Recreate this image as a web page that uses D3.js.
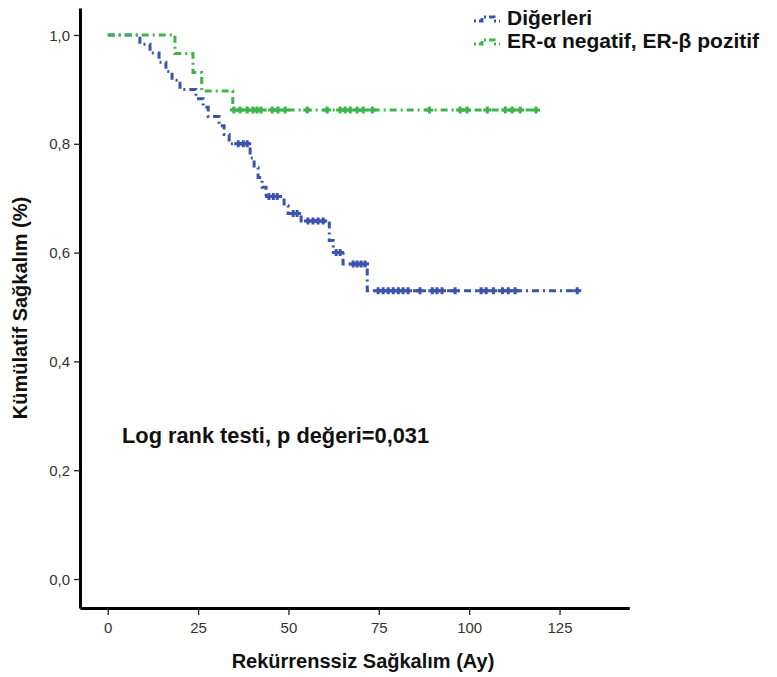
<!DOCTYPE html>
<html>
<head>
<meta charset="utf-8">
<script src="https://cdn.jsdelivr.net/npm/d3@7"></script>
<style>
  body { margin: 0; background: #fff; }
  svg { display: block; }
</style>
</head>
<body>
<div id="chart"></div>
<script>
// Kaplan-Meier steps: time (months) and survival after the step
const digerTimes = [8.9, 11.7, 14.2, 16.1, 17.8, 20.0, 24.4, 26.4, 27.8, 30.8, 32.2, 33.6,
  39.4, 40.5, 41.6, 42.7, 43.8, 48.8, 49.9, 53.5, 61.3, 62.4, 65.1, 71.8];
const digerSurv = [0.983, 0.967, 0.950, 0.933, 0.917, 0.900, 0.883, 0.867, 0.850, 0.833, 0.817, 0.800,
  0.774, 0.756, 0.738, 0.720, 0.703, 0.686, 0.672, 0.658, 0.622, 0.600, 0.579, 0.530];
const digerCensor = [36.1, 37.5, 38.6, 44.6, 45.8, 46.9, 51.3, 52.4, 55.4, 56.8, 58.2, 59.6,
  63.2, 64.3, 67.9, 69.0, 70.1, 71.2, 74.8, 76.2, 77.6, 79.0, 80.4, 81.7, 83.1, 86.4, 89.8,
  91.1, 92.5, 96.1, 103.3, 104.7, 106.7, 109.2, 110.8, 112.7, 129.9];

const erTimes = [18.6, 23.6, 26.0, 34.6];
const erSurv = [0.966, 0.931, 0.897, 0.862];
const erCensor = [34.9, 36.6, 38.6, 40.2, 41.3, 42.4, 45.5, 47.1, 49.1, 55.2, 60.7, 64.3, 65.7,
  67.1, 69.0, 70.7, 73.2, 89.0, 97.5, 99.4, 105.0, 110.0, 111.9, 114.1, 118.5];

const seriesNames = ["Diğerleri", "ER-α negatif, ER-β pozitif"];
const seriesColors = ["#3a53ab", "#3db54c"];
const xTicks = [0, 25, 50, 75, 100, 125];
const yTicks = [0, 0.2, 0.4, 0.6, 0.8, 1.0];

const W = 777, H = 677;
const svg = d3.select("#chart").append("svg")
  .attr("width", W).attr("height", H);

const x = d3.scaleLinear().domain([-7.67, 144.3]).range([80, 629.3]);
const y = d3.scaleLinear().domain([-0.0533, 1.0496]).range([608, 8]);

const font = "'Liberation Sans', Arial, sans-serif";

// axes
const yAxis = svg.append("g")
  .attr("transform", "translate(80,0)")
  .call(d3.axisLeft(y).tickValues(yTicks).tickSize(6).tickSizeOuter(0)
    .tickFormat(d => d3.format(".1f")(d).replace(".", ",")));
const xAxis = svg.append("g")
  .attr("transform", "translate(0,608)")
  .call(d3.axisBottom(x).tickValues(xTicks).tickSize(7).tickSizeOuter(0));

[xAxis, yAxis].forEach(g => {
  g.select(".domain").attr("stroke", "#000").attr("stroke-width", 3);
  g.selectAll(".tick line").attr("stroke", "#222").attr("stroke-width", 1.3);
  g.selectAll(".tick text")
    .attr("fill", "#333")
    .style("font-family", font)
    .style("font-size", "15px");
});
yAxis.selectAll(".tick text").attr("x", -10).attr("dy", "0.34em");
xAxis.selectAll(".tick text").attr("y", 14);

// curves
const line = d3.line()
  .x(d => x(d[0]))
  .y(d => y(d[1]))
  .curve(d3.curveStepAfter);

function survAt(times, surv, t) {
  let s = 1;
  times.forEach((tt, i) => { if (tt <= t) s = surv[i]; });
  return s;
}

function drawSeries(times, surv, censor, color) {
  const endT = Math.max(d3.max(times), d3.max(censor));
  const pts = [[0, 1]].concat(times.map((t, i) => [t, surv[i]]));
  pts.push([endT, surv[surv.length - 1]]);
  svg.append("path")
    .datum(pts)
    .attr("d", line)
    .attr("fill", "none")
    .attr("stroke", color)
    .attr("stroke-width", 3)
    .attr("stroke-dasharray", "7,4,2,4");

  const marks = svg.append("g");
  censor.forEach(t => {
    const cx = x(t), cy = y(survAt(times, surv, t));
    marks.append("path")
      .attr("d", `M${cx - 4},${cy}H${cx + 4}M${cx},${cy - 3.5}V${cy + 3.5}`)
      .attr("stroke", color)
      .attr("stroke-width", 3)
      .attr("fill", "none");
  });
}

drawSeries(digerTimes, digerSurv, digerCensor, seriesColors[0]);
drawSeries(erTimes, erSurv, erCensor, seriesColors[1]);

// legend
seriesNames.forEach((name, i) => {
  const ly = 21 + i * 23;
  svg.append("path")
    .attr("d", `M474,${ly}H482V${ly - 4}H494V${ly}H500`)
    .attr("fill", "none")
    .attr("stroke", seriesColors[i])
    .attr("stroke-width", 3)
    .attr("stroke-dasharray", "2,3,6,3");
  svg.append("text")
    .attr("x", 507).attr("y", ly + 4)
    .style("font-family", font)
    .style("font-size", "21px")
    .style("font-weight", "bold")
    .attr("fill", "#111")
    .text(name);
});

// titles
svg.append("text")
  .attr("x", 363).attr("y", 668)
  .attr("text-anchor", "middle")
  .style("font-family", font)
  .style("font-size", "20px")
  .style("font-weight", "bold")
  .attr("fill", "#111")
  .text("Rekürrenssiz Sağkalım (Ay)");

svg.append("text")
  .attr("transform", "translate(27,308) rotate(-90)")
  .attr("text-anchor", "middle")
  .style("font-family", font)
  .style("font-size", "20px")
  .style("font-weight", "bold")
  .attr("fill", "#111")
  .text("Kümülatif Sağkalım (%)");

svg.append("text")
  .attr("x", 122).attr("y", 443)
  .style("font-family", font)
  .style("font-size", "21.8px")
  .style("font-weight", "bold")
  .attr("fill", "#111")
  .text("Log rank testi, p değeri=0,031");
</script>
</body>
</html>
